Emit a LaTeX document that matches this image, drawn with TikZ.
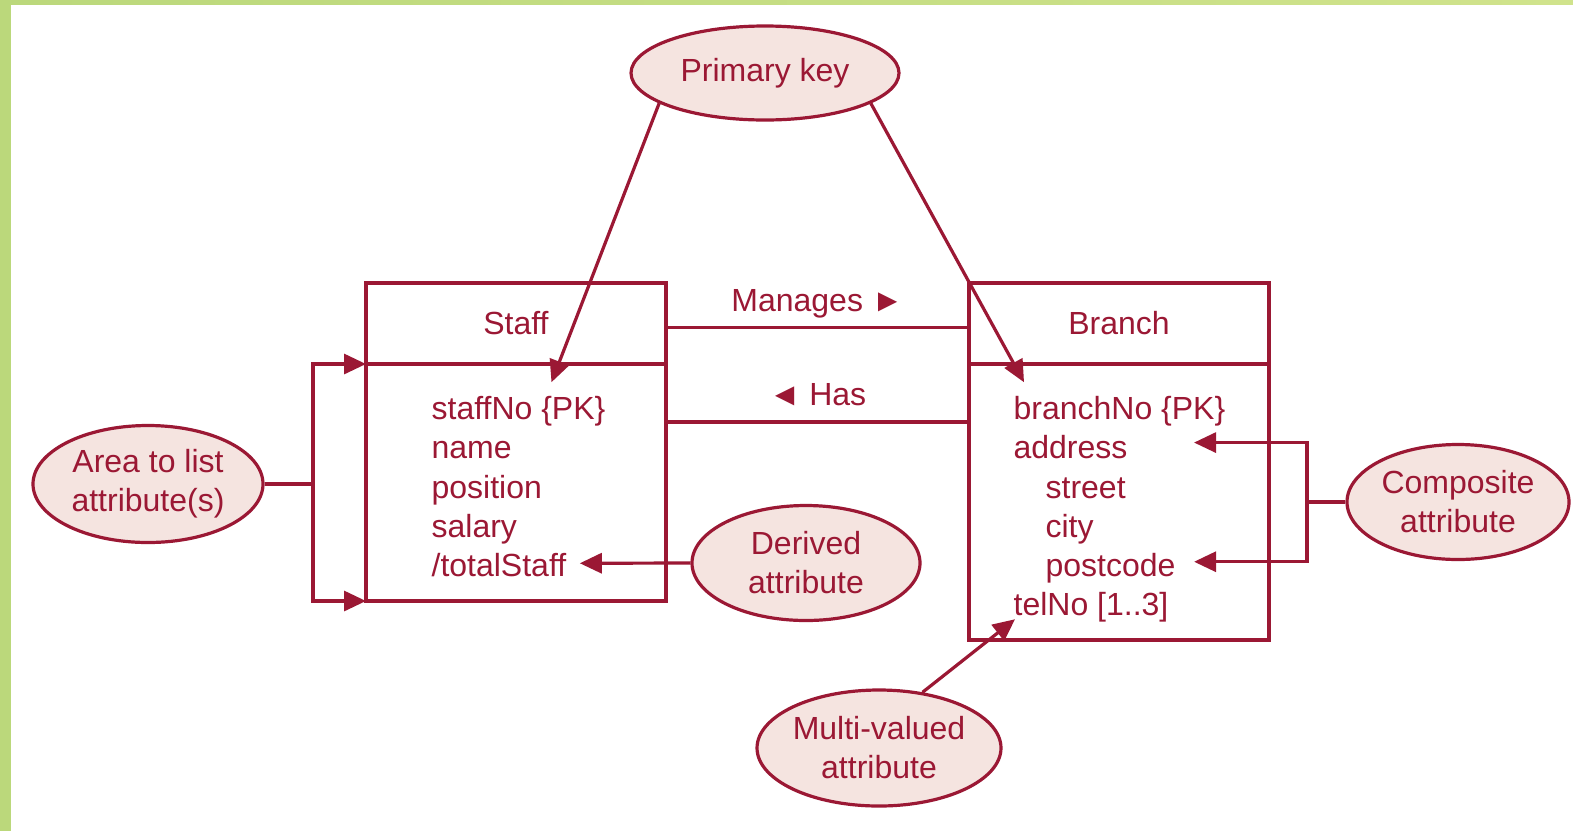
\documentclass[tikz,border=0pt]{standalone}
\usepackage{fontspec}
\setmainfont{Liberation Sans}
\usetikzlibrary{arrows.meta,positioning,shapes.geometric}
\definecolor{erred}{HTML}{9B1834}
\definecolor{erfill}{HTML}{F5E4E0}
\definecolor{framegreen}{HTML}{BBD87B}
\definecolor{framelight}{HTML}{D0E38C}

\begin{document}
\begin{tikzpicture}[x=1pt,y=-1pt,>={Triangle[length=22pt,width=20pt]},
  line width=3.2pt,color=erred,
  every node/.style={font=\fontsize{32}{39}\selectfont},
  head node/.style={rectangle,draw,minimum width=300pt,minimum height=81pt,inner sep=0pt,outer sep=0pt},
  body node/.style={rectangle,draw,minimum width=300pt,inner sep=0pt,outer sep=0pt},
  attr node/.style={anchor=base west,inner sep=0pt},
  note node/.style={ellipse,draw,fill=erfill,align=center,inner sep=0pt,minimum width=228pt,minimum height=115pt},
  rel node/.style={inner sep=0pt,text depth=0pt}]
  \fill[white] (0,0) rectangle (1573,831);
  \useasboundingbox (0,0) rectangle (1573,831);
  \fill[framegreen] (0,0) rectangle (11,831);
  \shade[left color=framegreen,right color=framelight] (0,0) rectangle (1573,4);

  \node[note node,minimum width=268pt,minimum height=94pt] (pk) at (765,73) {Primary key};
  \node[head node] (staff) at (516,323.5) {Staff};
  \node[body node,minimum height=237pt,below=0pt of staff] (staffbody) {};
  \node[head node,right=303pt of staff] (branch) {Branch};
  \node[body node,minimum height=276pt,below=0pt of branch] (branchbody) {};

  \node[attr node] (staffno) at (430,419) {staffNo \{PK\}};
  \node[attr node] (sname) at (430,458) {name};
  \node[attr node] (spos) at (430,498) {position};
  \node[attr node] (ssal) at (430,537) {salary};
  \node[attr node] (stotal) at (430,576) {/totalStaff};

  \node[attr node] (branchno) at (1012,419) {branchNo \{PK\}};
  \node[attr node] (baddr) at (1012,458) {address};
  \node[attr node] (bstreet) at (1044,498) {street};
  \node[attr node] (bcity) at (1044,537) {city};
  \node[attr node] (bpost) at (1044,576) {postcode};
  \node[attr node] (btel) at (1012,615) {telNo [1..3]};

  \node[note node,minimum width=230pt,minimum height=117pt] (area) at (148,484) {Area to list\\attribute(s)};
  \node[note node] (derived) at (806,563) {Derived\\attribute};
  \node[note node,minimum width=222pt] (composite) at (1458,502) {Composite\\attribute};
  \node[note node,minimum height=116pt] (multi) at (879,748) {Multi-valued\\attribute};
  \coordinate (fork) at (313,484);
  \coordinate (join) at (1307,502);

  \draw ([yshift=-4pt]staff.east) -- node[rel node,above=14pt] {Manages ►} ([yshift=-4pt]branch.west);
  \draw ([yshift=-58pt]staffbody.north east) -- node[rel node,above=15pt] {◄ Has} ([yshift=-58pt]branchbody.north west);

  \draw[->] (pk.196) -- ([xshift=33pt,yshift=12pt]staffno.north);
  \draw[->] (pk.344) -- ([xshift=12pt,yshift=12pt]branchno.north west);
  \draw (area.east) -- (fork);
  \draw[->] (fork) |- (staffbody.north west);
  \draw[->] (fork) |- (staffbody.south west);
  \draw[->] (derived.west) -- ([xshift=12pt,yshift=1.3pt]stotal.east);
  \draw (composite) -- (join);
  \draw[->] (join) |- ([xshift=65pt,yshift=4pt]baddr.east);
  \draw[->] (join) |- ([xshift=17pt,yshift=6pt]bpost.east);
  \draw[->] (multi.52) -- ([xshift=3pt,yshift=4pt]btel.south west);
\end{tikzpicture}
\end{document}
